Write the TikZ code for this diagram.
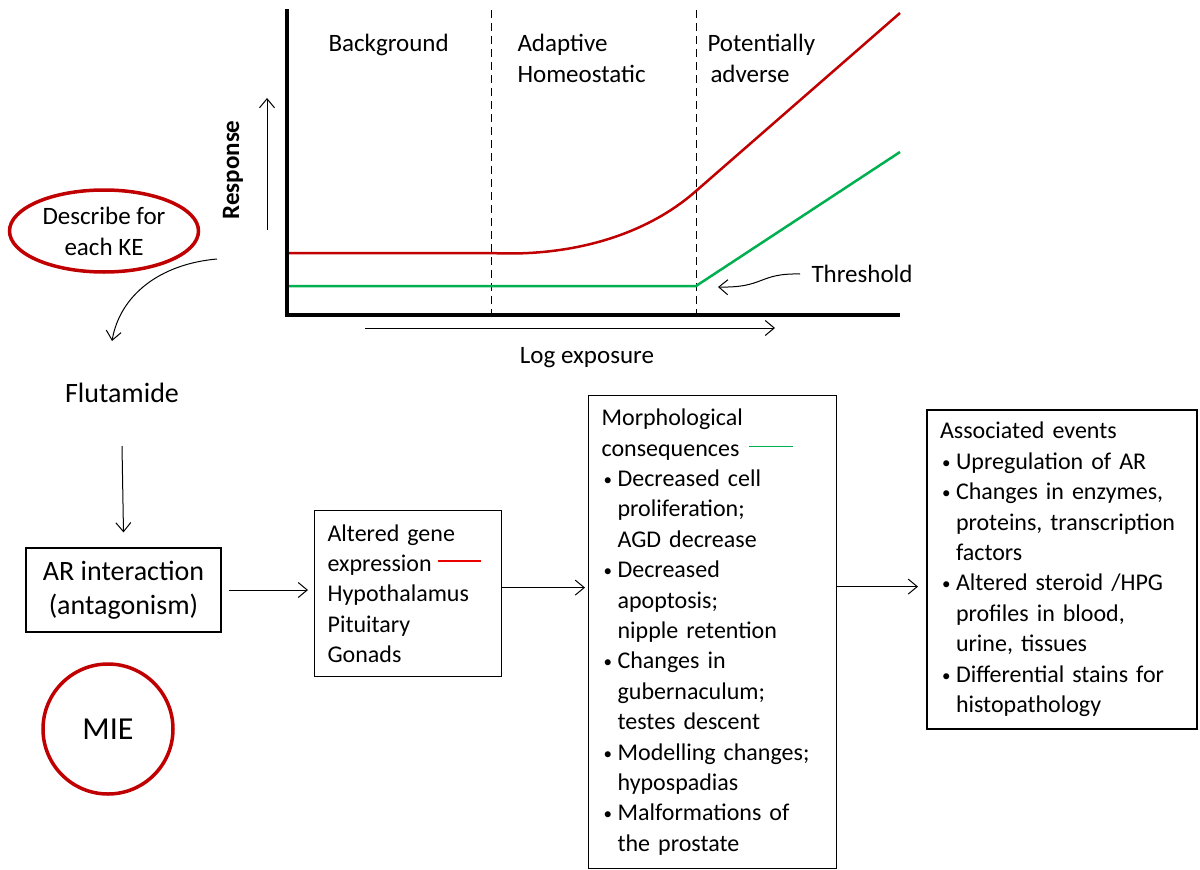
\documentclass[tikz,border=0pt]{standalone}
\usepackage{fontspec}
\setmainfont{Carlito}
\usetikzlibrary{arrows.meta,shapes.geometric}
\definecolor{aopred}{RGB}{192,0,0}
\definecolor{aopgreen}{RGB}{0,176,80}
\definecolor{keyred}{RGB}{235,0,0}
\newcommand{\itm}{\makebox[16pt][l]{\hspace{2pt}\raisebox{1pt}{\fontsize{17}{17}\selectfont\textbullet}}}
\newcommand{\hng}{\hspace*{16pt}}

\begin{document}
\begin{tikzpicture}[x=1pt,y=-1pt,line width=1pt,
  conn/.style={-{Straight Barb[length=9pt,width=15pt]}},
  box/.style={draw,line width=1.2pt,inner xsep=13pt,inner ysep=0pt,align=left,font=\fontsize{24}{30.4}\selectfont},
  lbl/.style={inner sep=0pt,align=left,font=\fontsize{25}{31}\selectfont},
  ring/.style={draw=aopred,line width=3.5pt,inner sep=0pt}]
\path[use as bounding box] (0,0) rectangle (1200,870);
% dose-response chart
\draw[dash pattern=on 8pt off 5pt] (491,10) -- (491,315);
\draw[dash pattern=on 8pt off 5pt] (696,10) -- (696,315);
\draw[aopred,line width=2.5pt] (287,253) -- (491,253) .. controls (570,257) and (645,236) .. (696,191) -- (900,13);
\draw[aopgreen,line width=2.5pt] (287,286) -- (696,286) -- (900,152);
\draw[line width=4pt] (287,9) -- (287,315) -- (900,315);
\draw[conn] (267,230) -- (267,98);
\draw[conn] (365,328) -- (775,328);
\node[lbl,anchor=west] (lblbg) at (328,45) {Background};
\node[lbl,anchor=north west] (lbladapt) at (517,34) {Adaptive\\Homeostatic};
\node[lbl,anchor=north west] (lbladv) at (707,34) {Potentially\\\hspace*{3pt}adverse};
\node[lbl,anchor=center,rotate=90,font=\fontsize{25}{31}\bfseries] (lblresp) at (233,170) {Response};
\node[lbl,anchor=center] (lbllog) at (587,358) {Log exposure};
\node[lbl,anchor=west] (lblthr) at (811,274) {Threshold};
\coordinate (thr) at (718,287);
\draw[conn] ([xshift=-11pt]lblthr.west) .. controls (758,273) and (765,288) .. (thr);
% key event chain
\node[ellipse,draw=aopred,line width=3.5pt,minimum width=189,minimum height=82,inner sep=0pt,align=center,font=\fontsize{25}{31}\selectfont] (describe) at (104,231) {Describe for\\each KE};
\coordinate (dstart) at (217,259);
\coordinate (dend) at (112,341);
\draw[conn] (dstart) .. controls (160,264) and (120,295) .. (dend);
\node[lbl,anchor=center,font=\fontsize{28}{34}\selectfont] (flut) at (122,393) {Flutamide};
\node[box,align=center,minimum width=195,minimum height=84,font=\fontsize{28}{34}\selectfont] (arint) at (123.5,590) {AR interaction\\(antagonism)};
\draw[conn] ([yshift=-53pt]flut.center) -- ([yshift=15pt]arint.north);
\node[ring,circle,minimum size=130,font=\fontsize{32}{38}\selectfont] (mie) at (108,729) {MIE};
\node[box,anchor=north west,text width=161,minimum height=166] (gene) at (314,510)
  {Altered gene\\expression\hspace{6pt}{\color{keyred}\rule[9pt]{43pt}{2pt}}\\Hypothalamus\\Pituitary\\Gonads};
\node[box,anchor=north west,text width=222,minimum height=473] (morph) at (588,395)
  {Morphological\\consequences\hspace{10pt}{\color{aopgreen}\rule[9pt]{44pt}{1.5pt}}\\
   \itm Decreased cell\\\hng proliferation;\\\hng AGD decrease\\
   \itm Decreased\\\hng apoptosis;\\\hng nipple retention\\
   \itm Changes in\\\hng gubernaculum;\\\hng testes descent\\
   \itm Modelling changes;\\\hng hypospadias\\
   \itm Malformations of\\\hng the prostate};
\node[box,line width=2pt,anchor=north west,text width=244,minimum height=319] (assoc) at (926,409)
  {Associated events\\
   \itm Upregulation of AR\\
   \itm Changes in enzymes,\\\hng proteins, transcription\\\hng factors\\
   \itm Altered steroid /HPG\\\hng profiles in blood,\\\hng urine, tissues\\
   \itm Differential stains for\\\hng histopathology};
\draw[conn,shorten <=7pt,shorten >=6pt] (arint.east) -- (arint.east -| gene.west);
\draw[conn,shorten >=3pt] ([yshift=6pt]gene.east) -- ([yshift=6pt]gene.east -| morph.west);
\draw[conn,shorten >=8pt] ([yshift=7pt]gene.east -| morph.east) -- ([yshift=7pt]gene.east -| assoc.west);
\end{tikzpicture}
\end{document}
